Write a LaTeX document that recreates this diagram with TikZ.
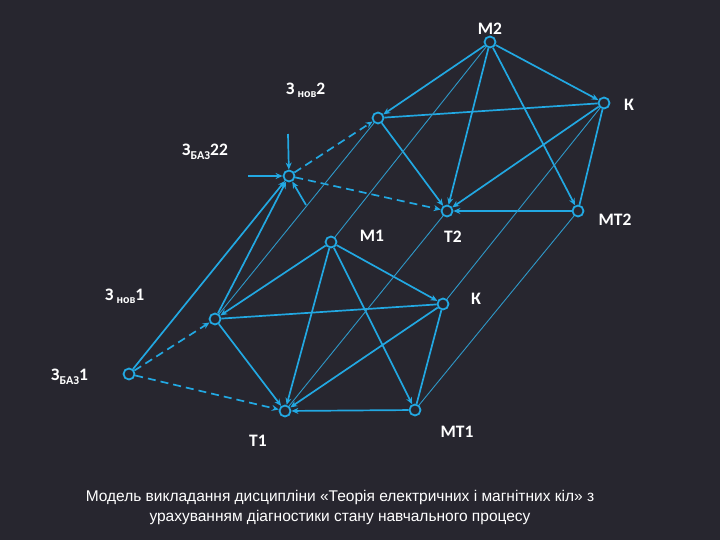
\documentclass[tikz,border=0pt]{standalone}
\usepackage{fontspec}
\setmainfont{Carlito}
\newfontfamily\capfont{Liberation Sans}
\usetikzlibrary{arrows.meta}

\definecolor{bgdark}{HTML}{27262F}
\definecolor{linkblue}{HTML}{22A8E2}
\definecolor{thinblue}{HTML}{2E98C8}

\newcommand{\lblsub}[2]{{\bfseries\fontsize{12}{13}\selectfont\raisebox{#1}{#2}}}

\tikzset{
  state/.style={circle,draw=linkblue,fill=bgdark,line width=1.8pt,
    inner sep=0pt,minimum size=11pt},
  lbl/.style={text=white,font=\bfseries\fontsize{17.5}{19}\selectfont,inner sep=0pt},
  link/.style={linkblue,line width=1.7pt},
  arr/.style={link,-{Stealth[length=7pt,width=6pt]}},
  dashlink/.style={arr,dash pattern=on 8pt off 5pt},
  thinlink/.style={thinblue,line width=0.9pt},
}

\begin{document}
\begin{tikzpicture}[x=1pt,y=-1pt]
  \fill[bgdark] (0,0) rectangle (720,540);
  \useasboundingbox (0,0) rectangle (720,540);

  % Upper level (second stage):
  \node[state] (m2)   at (490,42)  {};
  \node[state] (k2)   at (604,103) {};
  \node[state] (zn2)  at (378,118) {};
  \node[state] (zb22) at (289,176) {};
  \node[state] (t2)   at (447,211) {};
  \node[state] (mt2)  at (578,211) {};

  % Lower level (first stage):
  \node[state] (m1)  at (331,242) {};
  \node[state] (k1)  at (443,304) {};
  \node[state] (zn1) at (215,319) {};
  \node[state] (zb1) at (129,374) {};
  \node[state] (t1)  at (285,411) {};
  \node[state] (mt1) at (415,410) {};

  % Labels:
  \node[lbl] (m2l)  at (490,29)  {М2};
  \node[lbl] (k2l)  at (629,105) {К};
  \node[lbl] (mt2l) at (615,220) {МТ2};
  \node[lbl] (t2l)  at (453,237) {Т2};
  \node[lbl] (m1l)  at (372,236) {М1};
  \node[lbl] (k1l)  at (476,299) {К};
  \node[lbl] (t1l)  at (258,441) {Т1};
  \node[lbl] (mt1l) at (457,432) {МТ1};
  \node[lbl,anchor=west] (zn2l)  at (286,90)  {З\,\lblsub{-3pt}{нов}2};
  \node[lbl,anchor=west] (zb22l) at (182,152) {З\lblsub{-4pt}{БАЗ}22};
  \node[lbl,anchor=west] (zn1l)  at (105,296) {З\,\lblsub{-3pt}{нов}1};
  \node[lbl,anchor=west] (zb1l)  at (51,377)  {З\lblsub{-4pt}{БАЗ}1};

  % Links inside each level:
  \foreach \i in {1,2}{
    \foreach \a/\b in {m/zn, m/k, m/t, m/mt, zn/t, k/t, mt/t}
      \draw[arr] (\a\i) -- (\b\i);
    \draw[link] (zn\i) -- (k\i);
    \draw[link] (k\i) -- (mt\i);
  }

  % Base knowledge:
  \draw[dashlink] (zb1) -- (zn1);
  \draw[dashlink] (zb1) -- (t1);
  \draw[dashlink] (zb22) -- (zn2);
  \draw[dashlink] (zb22) -- (t2);
  \draw[arr] (zb1) -- (zb22);
  \draw[arr] (zn1) -- (zb22);

  % Inputs to the second base:
  \coordinate (inup)    at (288,134);
  \coordinate (inleft)  at (248,176);
  \coordinate (inbelow) at (306,205);
  \foreach \c in {inup, inleft, inbelow}
    \draw[arr] (\c) -- (zb22);

  % Thin links between the levels:
  \foreach \n in {zn, m, t, k, mt}
    \draw[thinlink] (\n1) -- (\n2);

  % Caption:
  \node[text=white,font=\capfont\fontsize{15.5}{20}\selectfont,align=center]
    (caption) at (340,507)
    {Модель викладання дисципліни «Теорія електричних і магнітних кіл» з\\
     урахуванням діагностики стану навчального процесу};
\end{tikzpicture}
\end{document}
